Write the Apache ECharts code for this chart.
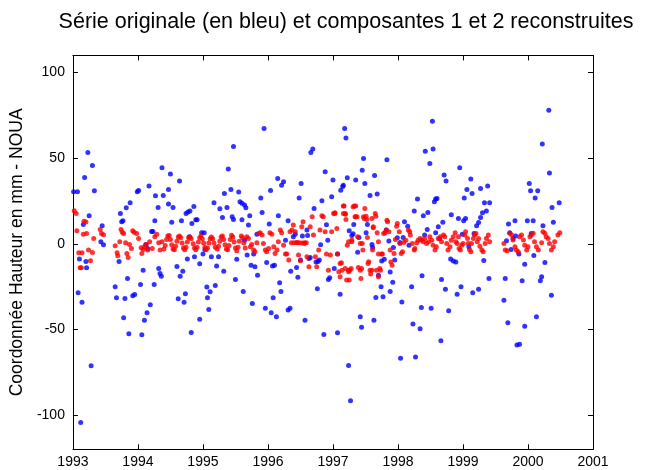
<!DOCTYPE html>
<html><head><meta charset="utf-8">
<script src="https://cdn.jsdelivr.net/npm/echarts@6/dist/echarts.min.js"></script>
<style>html,body{margin:0;padding:0;background:#fff}#c{width:646px;height:470px}</style>
</head><body><div id="c"></div>
<script>
const titleText = 'Série originale (en bleu) et composantes 1 et 2 reconstruites';
const yName = 'Coordonnée Hauteur en mm - NOUA';
const xTicks = [1993,1994,1995,1996,1997,1998,1999,2000,2001];
const yTicks = [-100,-50,0,50,100];

const blueData = [
[1993.01,30.4],[1993.07,30.4],[1993.23,53.3],[1993.30,45.7],[1993.18,38.7],[1993.33,30.9],[1993.25,16.3],[1993.16,11.3],[1993.45,10.5],[1993.10,-8.9],[1993.20,-10.3],[1993.21,-14.0],[1993.08,-28.6],[1993.14,-34.2],[1993.28,-71.2],[1993.12,-104.3],[1993.43,1.2],[1993.47,-0.6],
[1993.65,-25.1],[1993.67,-31.5],[1993.71,-10.3],[1993.73,17.7],[1993.75,12.8],[1993.77,13.4],[1993.80,-31.9],[1993.78,-43.2],[1993.82,21.0],[1993.84,-20.2],[1993.86,-52.5],[1993.88,23.9],[1993.92,-30.4],[1993.95,-29.6],[1993.99,30.4],[1994.01,31.1],[1994.04,-23.7],[1994.06,-53.1],[1994.08,-15.4],[1994.10,-44.7],[1994.12,-0.4],[1994.14,-40.3],[1994.15,-2.7],[1994.17,33.7],[1994.19,-35.6],[1994.21,7.2],[1994.23,7.2],[1994.25,-23.7],[1994.26,13.4],[1994.27,28.0],
[1994.31,21.2],[1994.32,-14.4],[1994.34,-17.3],[1994.36,-18.9],[1994.37,44.4],[1994.39,28.2],[1994.47,31.7],[1994.47,23.2],[1994.50,40.7],[1994.52,12.6],[1994.54,21.2],[1994.60,-13.2],[1994.62,-32.1],[1994.64,36.6],[1994.65,-18.9],[1994.67,13.4],[1994.69,-16.0],[1994.71,-34.2],[1994.73,-29.2],[1994.74,17.7],[1994.77,18.5],[1994.80,19.1],[1994.86,21.8],[1994.76,-8.9],[1994.79,4.1],[1994.82,-51.8],[1994.83,11.9],[1994.87,-7.6],[1994.89,14.0],[1994.91,14.0],[1994.95,-11.7],[1994.95,-44.0],[1994.98,6.4],[1995.02,6.4],[1995.00,-6.0],[1995.03,-3.3],[1995.06,-25.3],[1995.07,-31.5],[1995.09,-38.3],[1995.11,-28.0],[1995.13,-7.6],[1995.17,23.9],[1995.19,-24.3],[1995.21,-13.0],[1995.24,-7.6],[1995.26,20.4],[1995.30,15.4],[1995.32,-16.0],[1995.33,29.4],[1995.37,21.2],[1995.39,43.6],[1995.43,31.7],[1995.45,15.8],[1995.47,14.2],[1995.47,56.8],[1995.50,-20.8],[1995.52,-9.1],[1995.55,30.2],[1995.57,24.5],[1995.60,23.7],[1995.60,14.0],[1995.62,-27.8],[1995.64,2.1],
[1995.64,22.6],[1995.66,21.0],[1995.68,-6.6],[1995.72,16.3],[1995.70,10.9],[1995.74,-12.5],[1995.78,-6.0],[1995.80,-13.4],[1995.84,-18.3],[1995.76,-34.8],[1995.83,5.6],[1995.89,26.8],[1995.91,18.3],[1995.94,67.3],[1995.96,-37.7],[1995.98,-10.9],[1996.02,11.5],[1996.04,31.1],[1996.05,-40.3],[1996.07,-13.0],[1996.10,-12.5],[1996.08,-31.5],[1996.13,-42.6],[1996.15,38.1],[1996.16,16.3],[1996.18,-22.8],[1996.20,-27.8],[1996.21,34.2],[1996.24,36.2],[1996.27,2.1],[1996.31,-38.7],[1996.34,-37.7],[1996.31,13.4],[1996.35,-16.0],[1996.39,4.1],[1996.42,5.6],[1996.44,-13.8],[1996.46,-19.6],[1996.48,26.8],[1996.51,35.2],[1996.50,-9.5],[1996.53,4.5],[1996.57,-44.6],[1996.60,8.0],[1996.61,4.9],[1996.63,-8.6],[1996.65,-8.0],[1996.66,53.3],[1996.69,55.3],[1996.71,20.6],[1996.74,-10.7],[1996.77,-10.3],[1996.79,-9.5],[1996.76,-26.3],[1996.81,-0.6],[1996.83,25.1],[1996.86,-52.9],[1996.88,42.0],[1996.90,11.1],[1996.92,2.1],[1996.93,-20.8],[1996.95,-19.8],[1996.98,27.4],[1997.00,37.2],[1997.02,-14.4],
[1997.07,-6.0],[1997.07,-51.9],[1997.11,-29.4],[1997.12,31.3],[1997.15,33.5],[1997.16,34.2],[1997.18,67.3],[1997.20,61.7],[1997.22,38.5],[1997.24,-71.0],[1997.27,-91.6],[1997.25,7.6],[1997.29,4.9],[1997.31,5.8],[1997.32,11.3],[1997.35,37.2],[1997.38,-4.9],[1997.40,3.7],[1997.42,-42.6],[1997.44,-48.8],[1997.45,43.0],[1997.47,49.8],[1997.49,35.2],[1997.51,6.4],[1997.53,11.3],[1997.57,28.2],[1997.60,-0.4],[1997.61,-2.1],[1997.63,-44.6],[1997.64,39.9],[1997.66,-31.3],[1997.68,29.0],[1997.70,-18.3],[1997.74,-25.1],[1997.75,-10.1],[1997.77,-30.9],[1997.79,-9.1],[1997.83,49.0],[1997.82,8.0],[1997.86,1.6],[1997.88,-27.8],[1997.88,-16.5],[1997.92,-22.4],[1997.93,-2.1],[1997.95,-9.5],[1997.99,3.5],[1998.03,0.8],[1998.04,-66.9],[1998.06,-34.0],[1998.08,3.7],[1998.10,12.8],[1998.15,10.3],[1998.17,-0.8],[1998.21,-25.1],[1998.23,-46.9],[1998.25,19.1],[1998.27,-66.1],[1998.30,26.1],[1998.34,-49.6],[1998.36,-37.2],[1998.37,-18.7],[1998.39,16.3],[1998.41,5.1],[1998.42,54.1],
[1998.45,8.4],[1998.46,18.3],[1998.49,46.9],[1998.51,-37.7],[1998.53,71.6],[1998.54,55.4],[1998.56,24.5],[1998.58,26.1],[1998.60,26.5],[1998.58,6.4],[1998.62,9.9],[1998.64,2.9],[1998.66,-56.6],[1998.67,-20.8],[1998.69,12.6],[1998.71,40.1],[1998.74,36.6],[1998.73,-26.5],[1998.78,-39.1],[1998.82,16.9],[1998.81,-8.9],[1998.85,-10.1],[1998.89,-10.7],[1998.91,-29.4],[1998.93,14.8],[1998.95,44.4],[1998.97,-25.1],[1998.99,5.6],[1999.01,13.4],[1999.04,14.8],[1999.02,26.7],[1999.06,31.7],[1999.09,-1.8],[1999.12,37.9],[1999.14,29.4],[1999.15,-28.6],[1999.17,6.0],[1999.21,10.5],[1999.24,12.5],[1999.27,15.4],[1999.30,18.1],[1999.24,-26.5],[1999.27,32.3],[1999.32,-9.7],[1999.33,23.9],[1999.41,23.9],[1999.36,19.1],[1999.38,33.7],[1999.40,-20.2],
[1999.63,-32.9],[1999.65,-20.2],[1999.67,1.8],[1999.69,-46.1],[1999.70,11.5],[1999.72,6.4],[1999.74,-3.3],[1999.77,3.1],[1999.80,13.4],[1999.81,4.5],[1999.83,-59.1],[1999.87,-58.6],[1999.86,-6.0],[1999.91,-21.6],[1999.95,-11.9],[1999.95,-48.1],[1999.99,13.4],[2000.08,13.4],[2000.02,35.2],[2000.04,30.9],[2000.05,6.0],[2000.09,-6.8],[2000.11,26.8],[2000.13,-42.6],[2000.15,30.9],[2000.19,-21.6],[2000.21,-19.3],[2000.22,58.2],[2000.23,10.5],[2000.26,-10.9],[2000.32,78.0],[2000.33,41.4],[2000.36,-30.0],[2000.37,21.2],[2000.39,12.6],[2000.48,23.9]
];

const redData = [
[1993.02,19.3],[1993.05,17.7],[1993.06,7.6],[1993.09,-5.3],[1993.11,-14.0],[1993.13,-14.0],[1993.14,-5.3],[1993.16,5.6],[1993.17,13.1],[1993.20,12.7],[1993.21,6.0],[1993.24,-3.7],[1993.27,-9.9],[1993.30,-5.1],[1993.32,3.1],[1993.42,8.4],[1993.44,6.0],[1993.47,5.3],
[1993.65,-1.2],[1993.68,-5.3],[1993.69,-7.0],[1993.72,1.2],[1993.74,8.4],[1993.76,6.8],[1993.78,6.0],[1993.81,0.6],[1993.83,-5.6],[1993.85,-8.0],[1993.87,-0.4],[1993.90,-2.7],[1993.92,7.6],[1993.94,6.8],[1993.98,6.0],[1994.01,3.1],[1994.05,-2.3],[1994.06,-5.6],[1994.08,-3.3],[1994.10,-1.8],[1994.13,-0.4],[1994.15,-3.7],[1994.18,1.2],[1994.22,-2.7],[1994.26,4.1],[1994.29,5.5],[1994.32,0.6],[1994.34,-3.7],[1994.37,1.2],
[1994.40,-3.0],[1994.42,-1.0],[1994.44,2.5],[1994.46,4.5],[1994.48,4.8],[1994.50,2.5],[1994.52,-0.5],[1994.54,-3.0],[1994.56,-3.5],[1994.58,-1.5],[1994.60,1.5],[1994.62,4.0],[1994.64,4.5],[1994.66,3.5],[1994.68,0.5],[1994.70,-2.5],[1994.72,-3.5],[1994.74,-2.0],[1994.76,1.0],[1994.78,3.5],[1994.80,4.0],[1994.82,3.0],[1994.85,0.0],[1994.87,-2.5],[1994.89,-3.5],[1994.91,-2.0],[1994.93,1.0],[1994.95,3.5],[1994.97,4.5],[1994.99,3.0],[1995.01,0.5],[1995.03,-2.0],[1995.05,-3.5],[1995.07,-2.5],[1995.09,0.5],[1995.11,3.0],[1995.13,4.0],[1995.15,3.0],[1995.17,0.5],[1995.19,-2.0],[1995.22,-3.0],[1995.24,-1.5],[1995.26,1.5],[1995.28,4.0],[1995.30,4.5],[1995.32,2.5],[1995.34,-0.5],[1995.36,-3.0],[1995.38,-3.5],[1995.40,-1.0],[1995.42,2.5],[1995.44,5.0],[1995.46,4.0],[1995.48,1.0],[1995.50,-2.5],[1995.52,-4.0],[1995.54,-2.0],[1995.56,1.5],[1995.59,4.5],[1995.61,3.5],[1995.63,0.5],[1995.65,-2.5],
[1995.675,4.1],[1995.70,3.1],[1995.73,-1.8],[1995.75,-0.4],[1995.78,-3.7],[1995.80,-4.7],[1995.83,0.6],[1995.86,6.0],[1995.88,6.4],[1995.91,5.1],[1995.93,0.2],[1995.96,-3.7],[1995.98,-4.7],[1996.01,-2.7],[1996.03,6.4],[1996.06,5.6],[1996.09,-1.8],[1996.11,-5.6],[1996.14,-3.7],[1996.16,1.2],[1996.19,8.0],[1996.21,6.4],[1996.24,-0.8],[1996.27,-6.0],[1996.29,-6.0],[1996.32,-9.5],[1996.34,7.0],[1996.37,8.0],[1996.39,10.9],[1996.42,7.0],[1996.45,0.6],[1996.47,-6.6],[1996.50,-9.9],[1996.52,9.9],[1996.54,12.8],[1996.56,0.2],[1996.59,0.6],[1996.60,-7.6],[1996.63,-13.4],[1996.65,9.9],[1996.68,15.8],[1996.70,5.1],[1996.73,-7.6],[1996.75,-13.4],[1996.78,-3.7],[1996.80,8.0],[1996.83,16.3],[1996.85,15.8],[1996.88,7.0],[1996.90,-6.0],[1996.93,-15.4],[1996.96,-6.6],[1996.98,7.0],[1997.01,17.7],[1997.03,18.1],
[1996.36,0.6],[1996.40,0.6],[1996.44,0.8],[1996.48,0.6],[1996.52,0.4],[1996.56,0.6],
[1997.06,8.9],[1997.07,-6.0],[1997.09,-16.3],[1997.11,-19.3],[1997.13,-11.1],[1997.16,17.7],[1997.16,22.0],[1997.19,17.3],[1997.20,14.2],[1997.22,-0.8],[1997.24,-15.4],[1997.25,-21.2],[1997.28,-14.4],[1997.29,1.2],[1997.31,21.6],[1997.33,22.0],[1997.34,15.8],[1997.35,15.8],[1997.38,4.1],[1997.39,-13.8],[1997.42,-15.4],[1997.43,-20.2],[1997.46,-3.7],[1997.48,14.8],[1997.49,20.6],[1997.51,16.1],[1997.53,3.7],[1997.55,-10.5],[1997.57,-15.4],[1997.58,-17.7],[1997.61,-3.7],[1997.62,9.3],[1997.65,17.7],[1997.66,16.1],[1997.68,6.4],[1997.70,-6.0],[1997.72,-14.4],[1997.73,-15.4],[1997.75,-6.0],[1997.76,-6.0],[1997.78,6.0],[1997.80,6.4],[1997.83,13.8],[1997.84,12.8],[1997.86,7.0],[1997.88,-3.7],[1997.89,-10.7],[1997.91,-12.5],[1997.94,-5.6],[1997.96,2.5],[1997.98,10.3],[1997.99,11.9],[1998.02,7.0],[1998.03,0.2],[1998.05,-5.6],[1998.07,-4.7],[1998.09,0.8],[1998.12,2.1],[1998.16,8.0],[1998.18,7.0],[1998.19,5.1],[1998.22,0.2],[1998.25,-3.7],[1998.26,-2.7],[1998.29,0.6],[1998.31,2.1],[1998.34,3.1],[1998.36,2.1],[1998.39,1.2],[1998.41,3.1],
[1997.03,17.7],[1997.17,22.0],[1997.19,17.7],[1997.35,22.0],[1997.37,15.8],[1997.47,15.8],[1997.52,14.2],[1997.60,14.8],[1997.62,10.0],[1997.11,-11.5],[1997.14,-15.4],[1997.19,-14.4],[1997.21,-21.2],[1997.24,-16.4],[1997.26,-15.4],[1997.44,-14.4],[1997.54,-11.5],[1997.60,-15.4],[1997.67,-15.4],[1997.70,-19.3],[1997.24,1.2],[1997.29,2.2],[1997.42,0.2],[1997.45,0.2],[1997.70,1.2],[1997.82,8.0],
[1998.44,0.2],[1998.47,1.2],[1998.49,4.1],[1998.52,2.1],[1998.54,-0.8],[1998.57,-3.7],[1998.59,-1.8],[1998.62,3.1],[1998.65,4.1],[1998.67,1.2],[1998.70,5.1],[1998.72,4.1],[1998.75,0.2],[1998.77,-3.7],[1998.80,-1.8],[1998.82,2.1],[1998.85,4.1],[1998.88,6.4],[1998.89,1.2],[1998.91,0.2],[1998.93,4.1],[1998.94,-2.7],[1998.96,-3.7],[1998.98,-0.8],[1999.00,0.2],[1999.03,5.1],[1999.04,7.0],[1999.07,3.1],[1999.08,0.2],[1999.10,-3.3],[1999.12,-4.7],[1999.13,0.2],[1999.16,3.1],[1999.18,5.1],[1999.20,6.0],[1999.22,1.2],[1999.24,3.1],[1999.26,-1.4],[1999.29,-3.7],[1999.31,-4.7],[1999.34,0.2],[1999.36,3.1],[1999.39,5.1],[1999.41,1.2],
[1999.63,0.2],[1999.65,-3.7],[1999.68,-4.1],[1999.72,6.1],[1999.75,5.1],[1999.77,2.2],[1999.80,-1.7],[1999.82,-3.7],[1999.85,-4.7],[1999.87,4.1],[1999.90,5.1],[1999.93,2.2],[1999.95,-0.8],[1999.98,-3.7],[2000.00,-1.7],[2000.03,4.1],[2000.05,5.1],[2000.08,6.1],[2000.10,1.2],[2000.13,-1.7],[2000.16,-3.7],[2000.21,0.6],[2000.23,7.0],[2000.26,6.1],[2000.28,4.1],[2000.31,3.1],[2000.33,0.2],[2000.36,-3.7],[2000.39,-1.7],[2000.41,1.2],[2000.46,5.1],[2000.49,6.4]
];

const FONT = '"Liberation Sans", Arial, Helvetica, sans-serif';
const chart = echarts.init(document.getElementById('c'), null, {renderer:'canvas'});
const lineStyle = {color:'#000', width:1};
chart.setOption({
  animation:false,
  backgroundColor:'#fff',
  title:{text:titleText, left:341, top:6, textAlign:'center',
    textStyle:{fontFamily:FONT, fontSize:21.5, fontWeight:'normal', color:'#000'}},
  grid:{left:72.5, right:53, top:55.4, bottom:20.7},
  xAxis:[
    {type:'value', min:xTicks[0], max:xTicks[xTicks.length-1], interval:1,
     axisLine:{show:true, onZero:false, lineStyle}, axisTick:{show:true, inside:true, length:5, lineStyle},
     axisLabel:{color:'#000', fontSize:14, fontFamily:FONT, margin:6, formatter:v=>String(v)},
     splitLine:{show:false}},
    {type:'value', position:'top', min:xTicks[0], max:xTicks[xTicks.length-1], interval:1,
     axisLine:{show:true, onZero:false, lineStyle}, axisTick:{show:true, inside:true, length:5, lineStyle},
     axisLabel:{show:false}, splitLine:{show:false}}
  ],
  yAxis:[
    {type:'value', min:-120, max:110, name:yName, nameLocation:'middle', nameGap:45, nameRotate:90,
     nameTextStyle:{fontFamily:FONT, fontSize:17.5, color:'#000'},
     axisLine:{show:true, onZero:false, lineStyle},
     axisTick:{show:true, inside:true, length:5, lineStyle, customValues:yTicks},
     axisLabel:{color:'#000', fontSize:14, fontFamily:FONT, margin:8, customValues:yTicks},
     splitLine:{show:false}},
    {type:'value', position:'right', min:-120, max:110,
     axisLine:{show:true, onZero:false, lineStyle}, axisTick:{show:true, inside:true, length:5, lineStyle, customValues:yTicks},
     axisLabel:{show:false, customValues:yTicks}, splitLine:{show:false}}
  ],
  series:[
    {type:'scatter', data:blueData, symbol:'circle', symbolSize:5, itemStyle:{color:'#0000ff'}, silent:true},
    {type:'scatter', data:redData, symbol:'circle', symbolSize:5, itemStyle:{color:'#ff0000'}, silent:true}
  ]
});
</script></body></html>
